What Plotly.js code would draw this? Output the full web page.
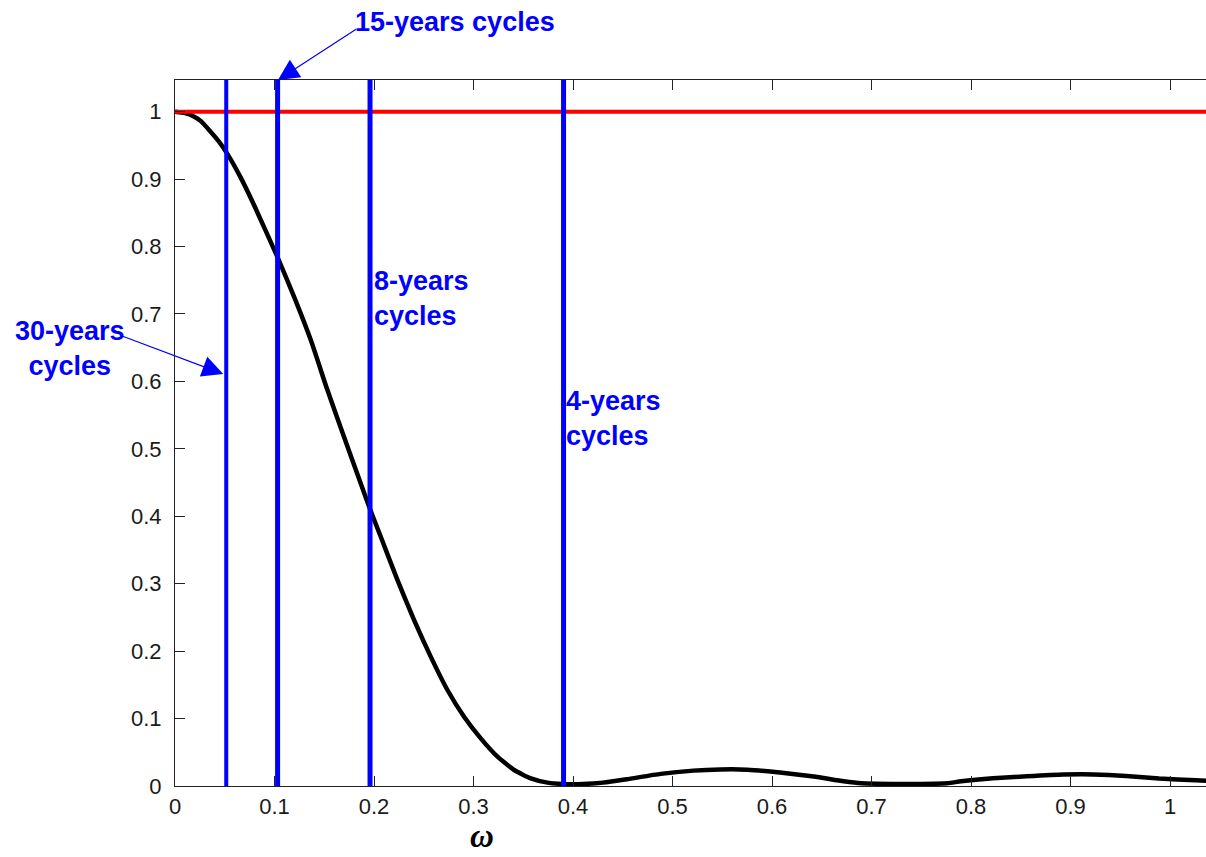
<!DOCTYPE html>
<html>
<head>
<meta charset="utf-8">
<script src="https://cdn.plot.ly/plotly-3.0.1.min.js"></script>
<style>
  html, body { margin: 0; padding: 0; overflow: hidden; background: #fff; }
  #chart { width: 1230px; height: 857px; }
</style>
</head>
<body>
<div id="chart"></div>
<script>
// Squared gain of the filter against frequency omega
const omega = [0, 0.01, 0.019, 0.026, 0.036, 0.044, 0.052, 0.0658, 0.0793, 0.1028, 0.1195, 0.1363,
  0.1531, 0.1698, 0.1866, 0.195, 0.2067, 0.2235, 0.2402, 0.257, 0.2738, 0.2905, 0.3073, 0.3241,
  0.3408, 0.3576, 0.3744, 0.39, 0.41, 0.43, 0.454, 0.488, 0.521, 0.548, 0.575, 0.608, 0.642,
  0.672, 0.69, 0.72, 0.75, 0.776, 0.79, 0.822, 0.856, 0.893, 0.923, 0.956, 0.989, 1.026, 1.047];
const gain = [1.0, 0.998, 0.993, 0.986, 0.970, 0.956, 0.939, 0.903, 0.862, 0.785, 0.726, 0.662,
  0.5875, 0.518, 0.449, 0.4145, 0.37, 0.3056, 0.2463, 0.1919, 0.1424, 0.1028, 0.0707, 0.0435,
  0.0237, 0.0114, 0.005, 0.003, 0.003, 0.005, 0.010, 0.018, 0.0228, 0.0245, 0.0242, 0.020, 0.014,
  0.007, 0.004, 0.003, 0.003, 0.004, 0.007, 0.0115, 0.0144, 0.017, 0.0172, 0.015, 0.011, 0.0085, 0.007];

// Ideal filter gain
const idealX = [0, 1.0472];
const idealY = [1, 1];

// Cycle frequencies (quarterly data) and their labels
const cycleFreq = [0.0515, 0.1031, 0.196, 0.3905];
const cycleWidth = [4, 5, 5, 5];
const cycleLabels = ['30-years<br>cycles', '15-years cycles', '8-years<br>cycles', '4-years<br>cycles'];

const xMax = 1.0472;
const yMax = 1.047;

const blue = '#0000ff';
const traces = [];

traces.push({
  x: omega, y: gain, type: 'scatter', mode: 'lines',
  line: { color: '#000000', width: 4.5, shape: 'spline', smoothing: 0.5 },
  hoverinfo: 'skip'
});
traces.push({
  x: idealX, y: idealY, type: 'scatter', mode: 'lines',
  line: { color: '#ff0000', width: 4 }, hoverinfo: 'skip'
});
cycleFreq.forEach((f, i) => {
  traces.push({
    x: [f, f], y: [0, yMax], type: 'scatter', mode: 'lines',
    line: { color: blue, width: cycleWidth[i] }, hoverinfo: 'skip'
  });
});

const labelFont = { family: 'Liberation Sans, Arial, sans-serif', size: 27, color: blue };

const annotations = [
  // 30-years label and its arrow
  { xref: 'paper', yref: 'paper', x: -0.1008, y: 0.619, xanchor: 'center', yanchor: 'middle',
    text: '<b>' + cycleLabels[0] + '</b>', showarrow: false, font: labelFont, align: 'center' },
  { xref: 'x', yref: 'y', x: 0.0485, y: 0.611, text: '', showarrow: true,
    ax: -104, ay: -39, arrowcolor: blue, arrowwidth: 1.2, arrowhead: 2, arrowsize: 3.5 },
  // 15-years label and its arrow
  { xref: 'paper', yref: 'paper', x: 0.1707, y: 1.0822, xanchor: 'left', yanchor: 'middle',
    text: '<b>' + cycleLabels[1] + '</b>', showarrow: false, font: labelFont },
  { xref: 'paper', yref: 'paper', x: 0.0988, y: 1.0, text: '', showarrow: true,
    ax: 80, ay: -52, arrowcolor: blue, arrowwidth: 1.2, arrowhead: 2, arrowsize: 3.5 },
  // 8-years and 4-years labels
  { xref: 'paper', yref: 'paper', x: 0.189, y: 0.6905, xanchor: 'left', yanchor: 'middle',
    text: '<b>' + cycleLabels[2] + '</b>', showarrow: false, font: labelFont, align: 'left' },
  { xref: 'paper', yref: 'paper', x: 0.3735, y: 0.52, xanchor: 'left', yanchor: 'middle',
    text: '<b>' + cycleLabels[3] + '</b>', showarrow: false, font: labelFont, align: 'left' },
  // axis label
  { xref: 'paper', yref: 'paper', x: 0.2946, y: -0.0992, xanchor: 'center', yanchor: 'bottom',
    text: '<b><i>ω</i></b>', showarrow: false,
    font: { family: 'Liberation Serif, Times New Roman, serif', size: 33, color: '#000' } }
];

const tickFont = { family: 'Liberation Sans, Arial, sans-serif', size: 22, color: '#1a1a1a' };
const tickVals = [0, 0.1, 0.2, 0.3, 0.4, 0.5, 0.6, 0.7, 0.8, 0.9, 1];
const tickText = ['0', '0.1', '0.2', '0.3', '0.4', '0.5', '0.6', '0.7', '0.8', '0.9', '1'];

const layout = {
  width: 1230, height: 857,
  margin: { l: 175, r: 13, t: 80, b: 71 },
  paper_bgcolor: '#ffffff', plot_bgcolor: '#ffffff',
  showlegend: false,
  xaxis: {
    range: [0, xMax], tickvals: tickVals, ticktext: tickText,
    ticks: 'inside', ticklen: 10, tickwidth: 1, tickcolor: '#222',
    showline: true, linecolor: '#222', linewidth: 1, mirror: 'ticks',
    showgrid: false, zeroline: false, tickfont: tickFont, ticklabelstandoff: 1
  },
  yaxis: {
    range: [0, yMax], tickvals: tickVals, ticktext: tickText,
    ticks: 'inside', ticklen: 10, tickwidth: 1, tickcolor: '#222',
    showline: true, linecolor: '#222', linewidth: 1, mirror: 'ticks',
    showgrid: false, zeroline: false, tickfont: tickFont, ticklabelstandoff: 8
  },
  annotations: annotations
};

Plotly.newPlot('chart', traces, layout, { displayModeBar: false, staticPlot: true });
</script>
</body>
</html>
